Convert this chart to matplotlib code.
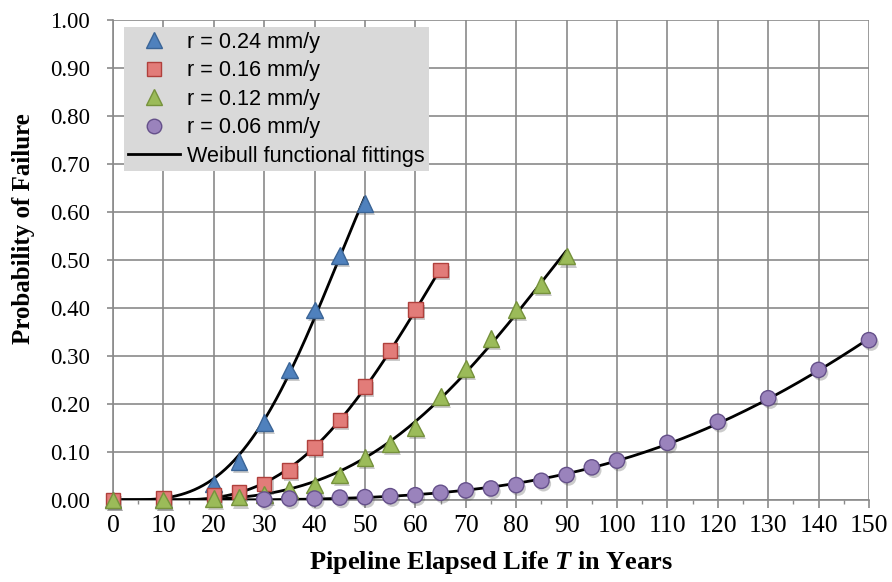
import numpy as np
import matplotlib
matplotlib.use("Agg")
import matplotlib.pyplot as plt
import matplotlib.patheffects as pe
from matplotlib.lines import Line2D

# Probability of failure vs. pipeline elapsed life for four corrosion rates
years_024 = [0, 10, 20, 25, 30, 35, 40, 45, 50]
pof_024 = [0.0, 0.0, 0.033, 0.080, 0.161, 0.271, 0.396, 0.510, 0.618]

years_016 = [0, 10, 20, 25, 30, 35, 40, 45, 50, 55, 60, 65]
pof_016 = [0.0, 0.003, 0.010, 0.017, 0.033, 0.062, 0.109, 0.167, 0.236, 0.312, 0.397, 0.479]

years_012 = [0, 10, 20, 25, 30, 35, 40, 45, 50, 55, 60, 65, 70, 75, 80, 85, 90]
pof_012 = [0.0, 0.0, 0.003, 0.006, 0.012, 0.022, 0.031, 0.052, 0.089, 0.118, 0.151,
           0.215, 0.274, 0.337, 0.397, 0.449, 0.508]

years_006 = [30, 35, 40, 45, 50, 55, 60, 65, 70, 75, 80, 85, 90, 95, 100,
             110, 120, 130, 140, 150]
pof_006 = [0.001, 0.003, 0.003, 0.005, 0.006, 0.008, 0.010, 0.015, 0.020, 0.024,
           0.031, 0.040, 0.052, 0.068, 0.082, 0.119, 0.163, 0.212, 0.271, 0.333]

labels = ["r = 0.24 mm/y", "r = 0.16 mm/y", "r = 0.12 mm/y", "r = 0.06 mm/y"]
fit_label = "Weibull functional fittings"
x_ticks = list(range(0, 151, 10))
y_ticks = [i / 10 for i in range(11)]


def weibull_cdf(t, beta, eta, gamma):
    z = np.clip(np.asarray(t, float) - gamma, 0, None) / eta
    return 1.0 - np.exp(-z ** beta)


def fit_weibull(t, f, gamma_max=12.5):
    """Least-squares three-parameter Weibull CDF fit (coarse-to-fine grid search)."""
    t = np.asarray(t, float)
    f = np.asarray(f, float)
    lo = np.array([1.0, 10.0, 0.0])
    hi = np.array([8.0, 600.0, gamma_max])
    best = None
    for _ in range(7):
        bs = np.linspace(lo[0], hi[0], 45)
        es = np.linspace(lo[1], hi[1], 45)
        gs = np.linspace(lo[2], hi[2], 45)
        B, E, G = np.meshgrid(bs, es, gs, indexing="ij")
        z = np.clip(t - G[..., None], 0, None) / E[..., None]
        pred = 1.0 - np.exp(-z ** B[..., None])
        sse = ((pred - f) ** 2).sum(axis=-1)
        i, j, k = np.unravel_index(np.argmin(sse), sse.shape)
        best = np.array([bs[i], es[j], gs[k]])
        span = (hi - lo) / 8
        lo = np.maximum(best - span, [0.5, 1.0, 0.0])
        hi = np.minimum(best + span, [20.0, 5000.0, gamma_max])
    return best


series = [
    (years_024, pof_024, "^", "#4F81BD", "#3B6597", 12),
    (years_016, pof_016, "s", "#E27C79", "#B0403C", 10.5),
    (years_012, pof_012, "^", "#9BBB59", "#76923C", 12),
    (years_006, pof_006, "o", "#9A83BC", "#65508A", 11),
]

plt.rcParams["font.family"] = ["Liberation Serif", "DejaVu Serif"]
plt.rcParams["mathtext.fontset"] = "custom"
plt.rcParams["mathtext.rm"] = "Liberation Serif"
plt.rcParams["mathtext.bf"] = "Liberation Serif:bold"
plt.rcParams["mathtext.it"] = "Liberation Serif:italic"
plt.rcParams["mathtext.bfit"] = "Liberation Serif:italic:bold"

fig = plt.figure(figsize=(8.92, 5.82), dpi=100)
ax = fig.add_axes([113 / 892, 82 / 582, 756 / 892, 480 / 582])

shadow = [pe.SimplePatchShadow(offset=(1.5, -2.2), shadow_rgbFace="#555555", alpha=0.3),
          pe.Normal()]

# fitted curves underneath the data markers
for t, f, *_ in series:
    beta, eta, gamma = fit_weibull(t, f)
    tt = np.linspace(0, max(t), 400)
    ax.plot(tt, weibull_cdf(tt, beta, eta, gamma), color="black", lw=2.0, zorder=3,
            solid_capstyle="butt")

for (t, f, m, fc, ec, ms) in series:
    ax.plot(t, f, linestyle="none", marker=m, markersize=ms, markerfacecolor=fc,
            markeredgecolor=ec, markeredgewidth=1.0, zorder=4, path_effects=shadow,
            clip_on=False)

ax.set_xlim(0, 150)
ax.set_ylim(0, 1.0)
ax.set_xticks(x_ticks)
ax.set_xticks(list(range(5, 150, 10)), minor=True)
ax.set_yticks(y_ticks)
ax.set_xticklabels([str(v) for v in x_ticks])
ax.set_yticklabels([f"{v:.2f}" for v in y_ticks])

ax.grid(True, which="major", color="#8A8A8A", linewidth=1.2)
ax.set_axisbelow(True)
for side in ["top", "right"]:
    ax.spines[side].set_visible(False)
for side in ["left", "bottom"]:
    ax.spines[side].set_color("#8A8A8A")
    ax.spines[side].set_linewidth(1.2)

ax.tick_params(axis="x", which="major", direction="out", length=5.5, width=1.2,
               color="#8A8A8A", labelsize=18.5, pad=5)
ax.tick_params(axis="x", which="minor", direction="out", length=3, width=1.0,
               color="#8A8A8A")
ax.tick_params(axis="y", which="major", direction="out", length=4.5, width=1.2,
               color="#8A8A8A", labelsize=16.5, pad=12)

fig.text(491 / 892, 1 - 562 / 582, "Pipeline Elapsed Life $\\mathbfit{T}$ in Years",
         ha="center", va="center", fontsize=19, fontweight="bold")
fig.text(24 / 892, 1 - 229 / 582, "Probability of Failure", ha="center", va="center",
         rotation=90, fontsize=18, fontweight="bold")

handles = [Line2D([], [], linestyle="none", marker=m, markersize=ms * 0.95,
                  markerfacecolor=fc, markeredgecolor=ec, markeredgewidth=1.0)
           for (_, _, m, fc, ec, ms) in series]
handles.append(Line2D([], [], color="black", lw=2.0))
leg = ax.legend(handles, labels + [fit_label], loc="upper left",
                bbox_to_anchor=(0.0146, 0.985), borderaxespad=0,
                prop={"family": "Liberation Sans", "size": 15.6},
                frameon=True, fancybox=False, facecolor="#D9D9D9",
                edgecolor="none", framealpha=1.0, handlelength=2.4,
                handletextpad=0.32, labelspacing=0.35, borderpad=0.2)
leg.set_zorder(5)

fig.savefig("out.png", dpi=100)
